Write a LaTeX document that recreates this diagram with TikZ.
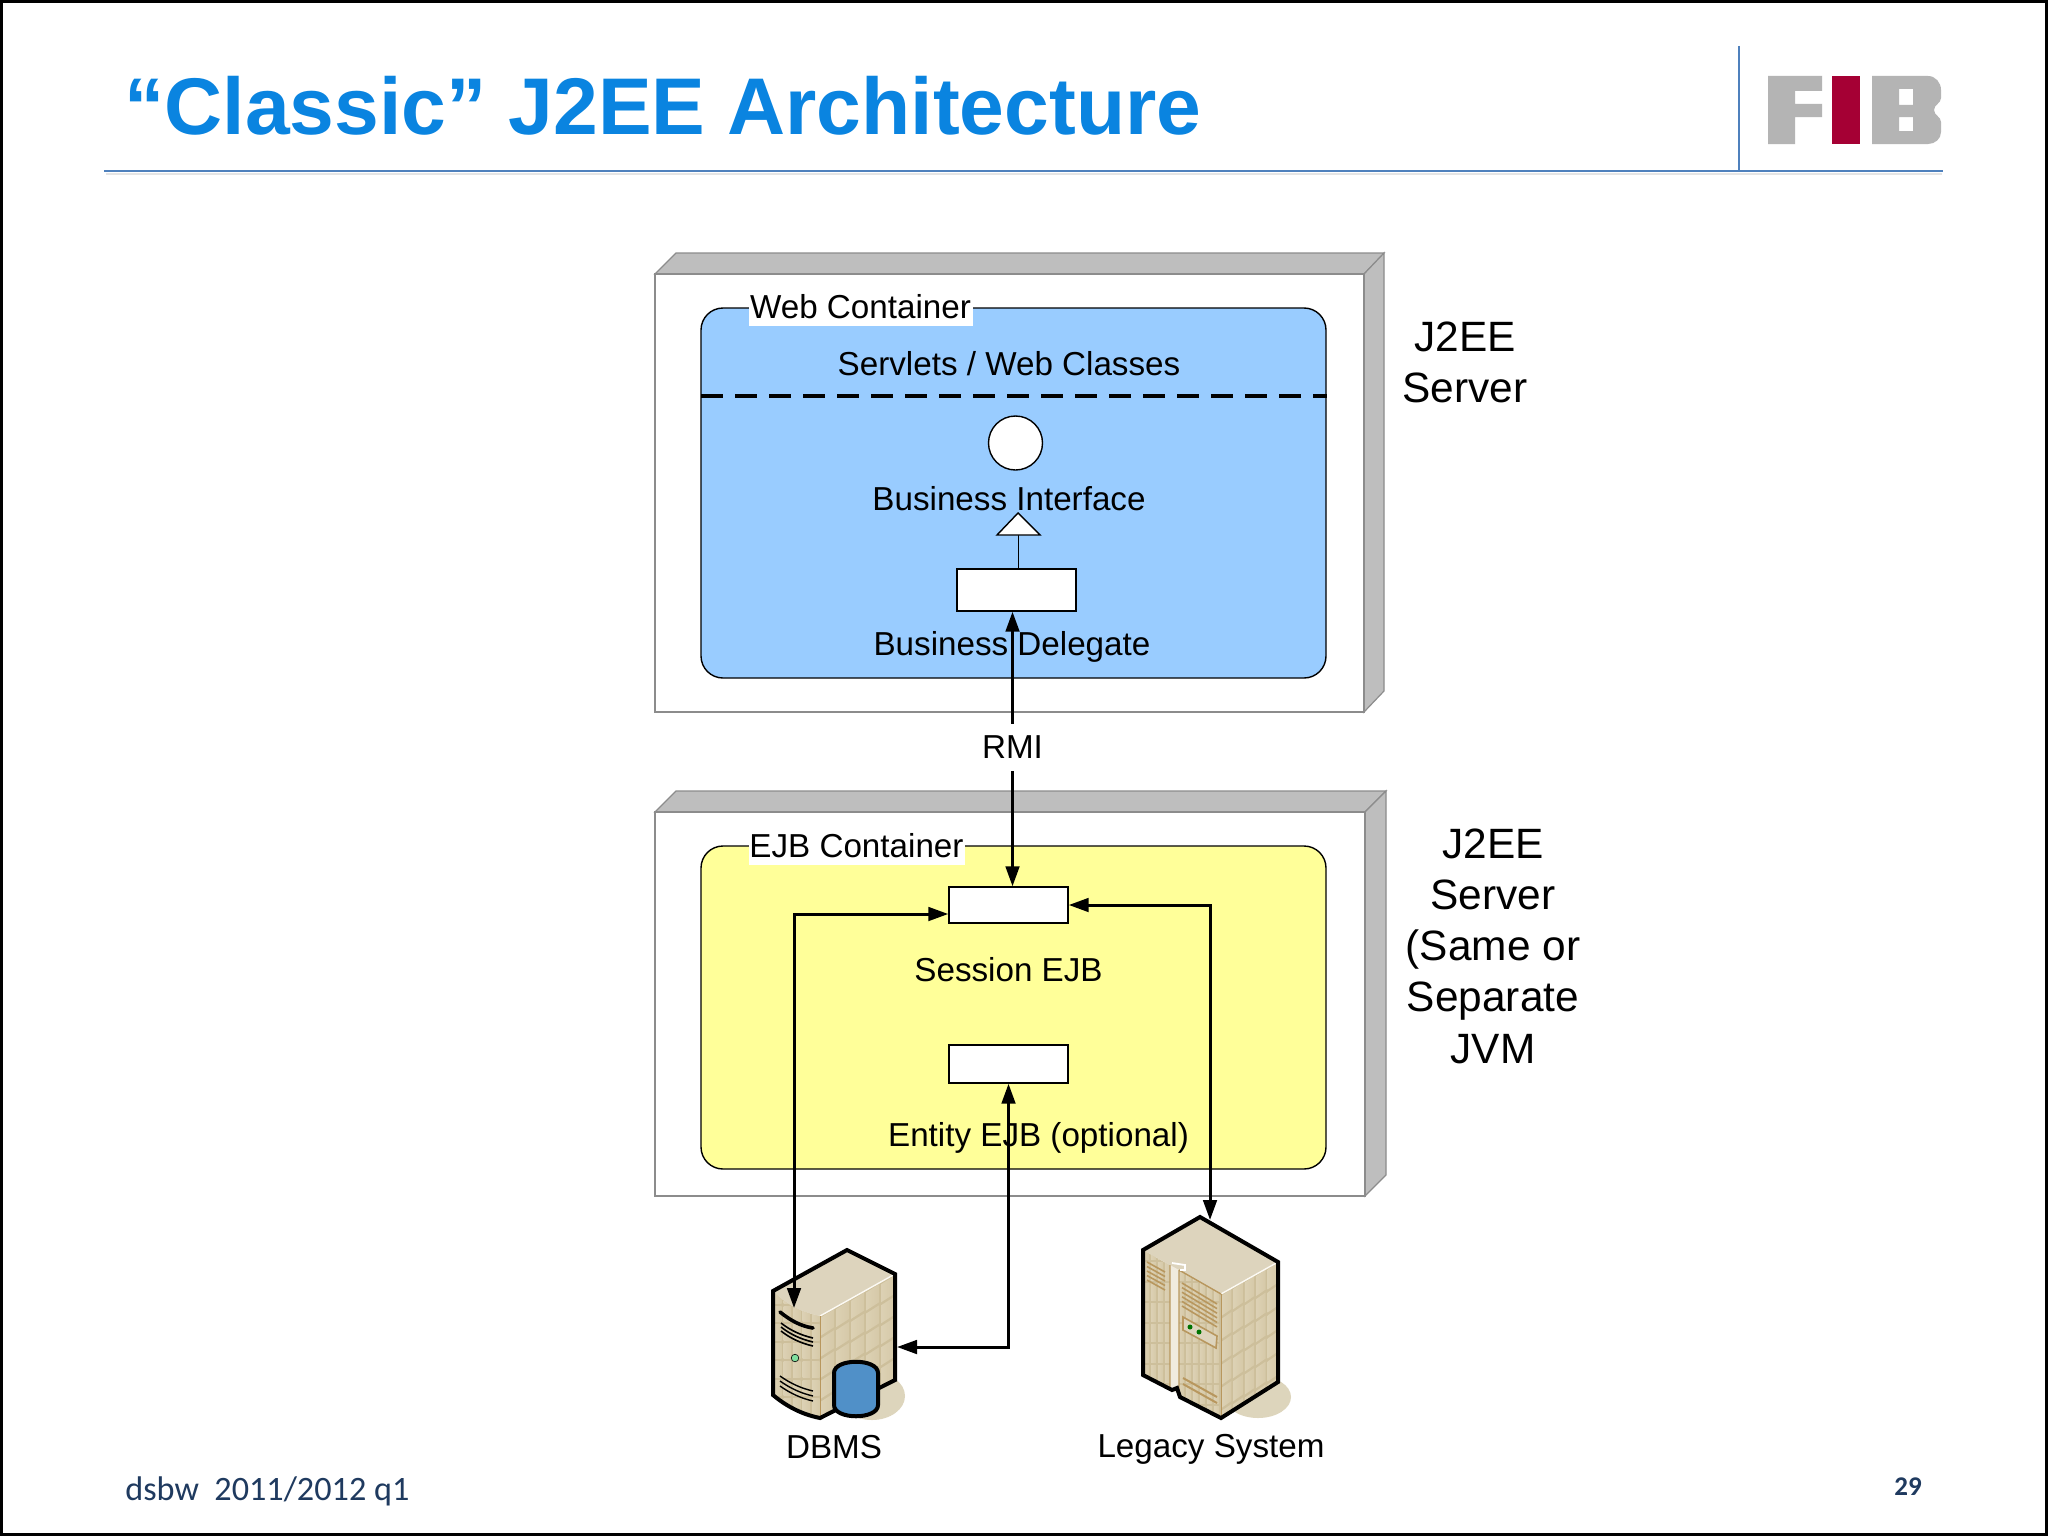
\documentclass[tikz,border=0pt]{standalone}
\usepackage{fontspec}
\setmainfont{Liberation Sans}
\newfontfamily\foot{Carlito}
\usetikzlibrary{arrows.meta}
\definecolor{titleblue}{HTML}{0A84E0}
\definecolor{rule}{HTML}{4F81BD}
\definecolor{sidegrey}{HTML}{BEBEBE}
\definecolor{framegrey}{HTML}{8C8C8C}
\definecolor{webblue}{HTML}{99CCFF}
\definecolor{ejbyellow}{HTML}{FFFF99}
\definecolor{fibgrey}{HTML}{B4B4B4}
\definecolor{fibred}{HTML}{A50034}
\definecolor{navy}{HTML}{1F3A5F}
\definecolor{srvtop}{HTML}{DDD4BD}
\definecolor{srvbase}{HTML}{CDBF9B}
\definecolor{srvtan}{HTML}{B8975E}
\definecolor{srvl}{HTML}{DCD1B4}
\definecolor{srvm}{HTML}{FCFAF4}
\definecolor{srvr}{HTML}{D6C9A8}
\definecolor{srvshadow}{HTML}{DDD5BC}
\definecolor{dbblue}{HTML}{5090C8}
\newcommand{\tiles}[7]{% ox oy dx dy h ni nj
  \foreach \i in {0,...,#6}{\foreach \j in {0,...,#7}{
    \shade[left color=srvl,middle color=srvm,right color=srvr]
      ({#1+\i*(#3)+1},{#2+\i*(#4)+\j*(#5)+1.5}) -- ++({#3-2},{#4}) -- ++(0,{#5-3}) -- ++({-(#3-2)},{-(#4)}) -- cycle;
  }}}
\tikzset{
  body/.style={font=\fontsize{16.6pt}{20pt}\selectfont,inner sep=0pt},
  side/.style={font=\fontsize{21.2pt}{25.6pt}\selectfont,align=center,inner sep=0pt},
  frontface/.style={draw=framegrey,line width=.6pt,fill=white},
  sideface/.style={draw=framegrey,line width=.6pt,fill=sidegrey},
  container/.style={draw=black,line width=.7pt,rounded corners=11pt},
  clabel/.style={body,fill=white,inner xsep=0pt,minimum height=19pt},
  whitebox/.style={draw=black,line width=.7pt,fill=white,inner sep=0pt,minimum width=59.5pt},
  link/.style={line width=1.5pt,draw=black,{Triangle[length=10pt,width=6.8pt]}-{Triangle[length=10pt,width=6.8pt]}},
  linkone/.style={line width=1.5pt,draw=black,-{Triangle[length=10pt,width=6.8pt]}},
  srvline/.style={line width=2pt,draw=black,line join=miter},
  louvre/.style={line width=.8pt,draw=srvtan},
}
\begin{document}
\begin{tikzpicture}[x=0.5pt,y=-0.5pt]
\useasboundingbox (0,0) rectangle (2048,1536);
\fill[white] (0,0) rectangle (2048,1536);
\draw[black,line width=1.5pt] (1.5,1.5) rectangle (2046.5,1534.5);
% title
\node[anchor=base west,inner sep=0pt,text=titleblue,font=\fontsize{40.2pt}{48pt}\selectfont\bfseries] (title) at (124,134) {“Classic” J2EE Architecture};
\fill[gray!20] (106,173) rectangle (1942,175);
\coordinate (ruleL) at (104,171);
\coordinate (ruleR) at (1943,171);
\coordinate (ruleT) at (1739,46);
\draw[rule,line width=1pt] (ruleL) -- (ruleR);
\draw[rule,line width=1pt] (ruleT) -- (ruleT |- ruleL);
% logo
\fill[fibgrey] (1768,76) -- (1822,76) -- (1822,91) -- (1795,91) -- (1795,104) -- (1822,104) -- (1822,117) -- (1795,117) -- (1795,144) -- (1768,144) -- cycle;
\fill[fibred] (1832,76) rectangle (1860,144);
\fill[fibgrey,even odd rule] (1872,76) -- (1928,76) to[out=0,in=90] (1941,90) -- (1941,98) to[out=-90,in=90] (1934,110) to[out=-90,in=90] (1941,122) -- (1941,132) to[out=-90,in=0] (1928,144) -- (1872,144) -- cycle
  (1899,89) rectangle (1913,105) (1899,117) rectangle (1913,131);
% web server box
\draw[sideface] (655,274) -- (676,253) -- (1384,253) -- (1364,274) -- cycle;
\draw[sideface] (1364,274) -- (1384,253) -- (1384,691) -- (1364,712) -- cycle;
\draw[frontface] (655,274) rectangle (1364,712);
\draw[container,fill=webblue] (701,308) rectangle (1326,678);
\node[clabel,minimum width=112pt] (webl) at (860.5,307) {Web Container};
\node[body] (servlets) at (1009,364) {Servlets / Web Classes};
\draw[line width=2pt,dash pattern=on 11pt off 6pt] (701,396) -- (1327,396);
\node[draw=black,line width=.7pt,fill=white,circle,inner sep=0pt,minimum size=27pt] (iface) at (1015.5,443) {};
\node[body] (bi) at (1009,499) {Business Interface};
\node[whitebox,minimum height=21pt] (delegate) at (1016.5,590) {};
\coordinate (triBase) at (1018,535);
\draw[line width=.5pt] (triBase) -- (triBase |- delegate.north);
\draw[line width=.7pt,fill=white] (1018,513) -- (1040,535) -- (997,535) -- cycle;
\node[body] (bd) at (1012,646.5) {Business Delegate};
% ejb server box
\draw[sideface] (655,812) -- (676,791) -- (1386,791) -- (1365,812) -- cycle;
\draw[sideface] (1365,812) -- (1386,791) -- (1386,1175) -- (1365,1196) -- cycle;
\draw[frontface] (655,812) rectangle (1365,1196);
\draw[container,fill=ejbyellow] (701,846) rectangle (1326,1169);
\node[clabel,minimum width=108pt] (ejbl) at (856.5,846) {EJB Container};
\node[whitebox,minimum height=18pt] (session) at (1008.5,905) {};
\node[body] (se) at (1008.5,970) {Session EJB};
\node[whitebox,minimum height=19pt] (entity) at (1008.5,1064) {};
\node[body] (ee) at (1038.5,1137.5) {Entity EJB (optional)};
% side texts
\node[side] (s1) at (1465,362) {J2EE\\Server};
\node[side] (s2) at (1493,946) {J2EE\\Server\\(Same or\\Separate\\JVM};
% DBMS server
\fill[srvshadow] (872,1396) ellipse [x radius=33,y radius=24];
\begin{scope}
  \clip (773,1291) .. controls (785,1303) and (800,1312) .. (820,1316) -- (820,1418) .. controls (800,1414) and (785,1405) .. (773,1395) -- cycle;
  \fill[srvbase] (770,1285) rectangle (825,1425);
  \tiles{773}{1286}{9.5}{0}{18.5}{4}{7}
\end{scope}
\begin{scope}
  \clip (820,1316) -- (895,1274) -- (895,1380) -- (820,1418) -- cycle;
  \fill[srvbase] (815,1270) rectangle (900,1425);
  \tiles{820}{1316}{15}{-8.3}{21}{4}{5}
\end{scope}
\fill[srvtop] (847,1250) -- (895,1274) -- (820,1316) .. controls (800,1312) and (785,1303) .. (773,1291) -- cycle;
\draw[srvm,line width=.7pt] (895,1274) -- (820,1316);
\draw[srvtan,line width=.5pt] (820,1316) -- (820,1418);
\draw[line width=1.8pt,line cap=round] (780,1312) .. controls (790,1320) and (800,1326) .. (813,1328);
\draw[line width=.8pt] (781,1323) .. controls (790,1330) and (800,1335) .. (813,1338) (781,1327) .. controls (790,1334) and (800,1339) .. (813,1342) (781,1331) .. controls (790,1338) and (800,1343) .. (813,1346);
\draw[fill=green!50!teal!50,line width=.3pt] (795,1358) circle (3.8);
\foreach \k in {0,1,2}{\draw[line width=.7pt] (780,{1376+\k*5}) .. controls (790,{1383+\k*5}) and (800,{1388+\k*5}) .. (813,{1391+\k*5});}
\draw[srvline] (773,1291) -- (847,1250) -- (895,1274) -- (895,1380) -- (820,1418) .. controls (800,1414) and (785,1405) .. (773,1395) -- cycle;
\draw[fill=dbblue,line width=2pt] (834,1373) .. controls (834,1358) and (878,1358) .. (878,1373) -- (878,1405) .. controls (878,1420) and (834,1420) .. (834,1405) -- cycle;
\node[body] (dbms) at (834,1447) {DBMS};
% legacy server
\fill[srvshadow] (1258,1397) ellipse [x radius=33,y radius=21];
\begin{scope}
  \clip (1143,1250) -- (1221,1294) -- (1221,1418) -- (1180,1397) -- (1177,1388) -- (1172,1390) -- (1143,1375) -- cycle;
  \fill[srvbase] (1140,1245) rectangle (1225,1425);
  \tiles{1143}{1220}{7}{0}{20.5}{11}{9}
\end{scope}
\begin{scope}
  \clip (1221,1294) -- (1278,1262) -- (1278,1382) -- (1221,1418) -- cycle;
  \fill[srvbase] (1215,1255) rectangle (1282,1425);
  \tiles{1221}{1294}{11.4}{-6.5}{23}{4}{5}
\end{scope}
\fill[srvtop] (1200,1217) -- (1278,1262) -- (1221,1294) -- (1143,1250) -- cycle;
\draw[srvm,line width=.7pt] (1278,1262) -- (1221,1294);
\draw[srvtan,line width=.5pt] (1221,1294) -- (1221,1418);
% strip between doors
\fill[srvm!60!srvtop] (1170,1265) -- (1179,1270) -- (1179,1394) -- (1170,1390) -- cycle;
\draw[srvtan,line width=.7pt] (1170,1265) -- (1170,1390) (1179,1270) -- (1179,1394) (1179,1270) -- (1221,1294);
\draw[white,line width=.9pt] (1172,1263) -- (1185,1265) -- (1185,1270) -- (1180,1270);
% louvres
\foreach \k in {0,...,4}{\draw[louvre] (1147,{1262+\k*4.5}) -- (1165,{1272+\k*4.5});}
\foreach \k in {0,...,5}{\draw[louvre] (1182,{1283+\k*4.6}) -- (1217,{1304+\k*4.6});}
\foreach \k in {0,1}{\draw[louvre,line width=1pt] (1183,{1378+\k*6}) -- (1217,{1397+\k*6});}
\draw[srvtan,fill=srvtop,line width=.8pt] (1183,1317) -- (1217,1336) -- (1216,1348) -- (1183,1330) -- cycle;
\fill[green!45!black] (1190,1327) circle (2.5) (1199,1332) circle (2.5);
\draw[srvline] (1143,1250) -- (1200,1217) -- (1278,1262) -- (1278,1382) -- (1221,1418) -- (1180,1397) -- (1177,1388) -- (1172,1390) -- (1143,1375) -- cycle;
\node[body] (legacy) at (1211,1449.5) {Legacy System};
% RMI and connectors
\node[body] (rmi) at (1012.5,747.5) {RMI};
\coordinate (dbmsTop) at (794,1308);
\coordinate (dbmsRight) at (897,1347);
\coordinate (legacyTop) at (1210,1220);
\coordinate (sessionLeft) at ([yshift=-4.5pt]session.west);
\draw[linkone] ([yshift=6pt]rmi.north) -- (rmi |- delegate.south);
\draw[linkone] ([yshift=-6pt]rmi.south) -- (rmi |- session.north);
\draw[link] (sessionLeft) -| (dbmsTop);
\draw[link] (session.east) -| (legacyTop);
\draw[link] (entity.south) |- (dbmsRight);
% footer
\node[anchor=base west,inner sep=0pt,text=navy,font=\fontsize{17.1pt}{20pt}\selectfont\foot] (foot) at (125,1500) {dsbw\ \ 2011/2012 q1};
\node[inner sep=0pt,text=navy,font=\fontsize{13.5pt}{16pt}\selectfont\foot\bfseries] (page) at (1908,1487) {29};
\end{tikzpicture}
\end{document}
